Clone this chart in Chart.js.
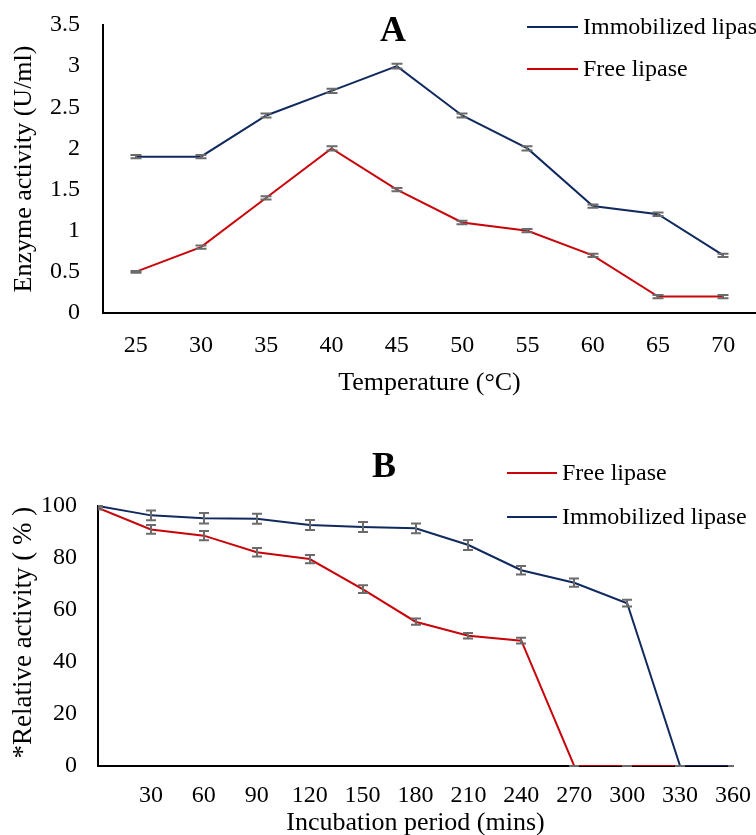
<!DOCTYPE html>
<html><head><meta charset="utf-8">
<script src="https://cdn.jsdelivr.net/npm/chart.js@4/dist/chart.umd.min.js"></script>
<style>
html,body{margin:0;padding:0;background:#fff;overflow:hidden;width:756px;height:835px;}
#wa{position:absolute;left:0;top:0;width:756px;height:420px;}
#wb{position:absolute;left:0;top:420px;width:756px;height:425px;}
</style></head><body>
<div id="wa"><canvas id="ca"></canvas></div>
<div id="wb"><canvas id="cb"></canvas></div>
<script>
// ---- Panel A data ----
const temperatures = ['25','30','35','40','45','50','55','60','65','70'];
const immobilizedA = [1.9, 1.9, 2.4, 2.7, 3.0, 2.4, 2.0, 1.3, 1.2, 0.7];
const freeA        = [0.5, 0.8, 1.4, 2.0, 1.5, 1.1, 1.0, 0.7, 0.2, 0.2];
const immobilizedAErr = [0.02, 0.02, 0.025, 0.025, 0.03, 0.025, 0.025, 0.02, 0.02, 0.02];
const freeAErr        = [0.01, 0.02, 0.02, 0.025, 0.02, 0.02, 0.02, 0.02, 0.02, 0.02];
const yTicksA = ['0','0.5','1','1.5','2','2.5','3','3.5'];

// ---- Panel B data ----
const incubation = [0, 30, 60, 90, 120, 150, 180, 210, 240, 270, 300, 330, 360];
const freeB        = [99.3, 91, 88.6, 82.2, 79.6, 68, 55.5, 50.1, 48.2, 0, 0, 0, 0];
const immobilizedB = [100, 96.4, 95.3, 95.1, 92.7, 91.9, 91.4, 85, 75.3, 70.5, 62.6, 0, 0];
const freeBErr        = [0.6, 1.7, 1.8, 1.6, 1.6, 1.5, 1.2, 1.1, 1.1, 0, 0, 0, 0];
const immobilizedBErr = [0, 1.9, 2.0, 1.9, 1.9, 1.9, 1.9, 1.9, 1.6, 1.6, 1.3, 0, 0];
const xTicksB = ['', '30','60','90','120','150','180','210','240','270','300','330','360'];
const yTicksB = ['0','20','40','60','80','100'];

const NAVY = '#10295f';
const RED = '#c8040a';
const GRAY = '#6b6b6b';
const FONT = '"Liberation Serif", "Times New Roman", serif';

const errorBars = {
  id: 'errbars',
  afterDatasetsDraw(chart, args, o) {
    const ctx = chart.ctx, ys = chart.scales.y, a = chart.chartArea;
    ctx.save();
    ctx.beginPath();
    ctx.rect(a.left, 0, a.right - a.left + 1, chart.height);
    ctx.clip();
    ctx.strokeStyle = o.color; ctx.lineWidth = o.width;
    chart.data.datasets.forEach((ds, di) => {
      const errs = o.errors[di];
      const meta = chart.getDatasetMeta(di);
      meta.data.forEach((pt, i) => {
        const raw = ds.data[i];
        const v = (typeof raw === 'object') ? raw.y : raw;
        const e = errs[i];
        const x = Math.round(pt.x);
        const yt = ys.getPixelForValue(v + e), yb = ys.getPixelForValue(v - e);
        const h = o.cap / 2;
        ctx.beginPath();
        ctx.moveTo(x, yt); ctx.lineTo(x, yb);
        ctx.moveTo(x - h, yt); ctx.lineTo(x + h, yt);
        ctx.moveTo(x - h, yb); ctx.lineTo(x + h, yb);
        ctx.stroke();
      });
    });
    ctx.restore();
  }
};

const annot = {
  id: 'annot',
  afterDraw(chart, args, o) {
    const ctx = chart.ctx;
    ctx.save();
    ctx.fillStyle = '#000';
    ctx.font = 'bold 36px ' + FONT;
    ctx.textAlign = 'center'; ctx.textBaseline = 'middle';
    ctx.fillText(o.title, o.tx, o.ty);
    ctx.font = '24px ' + FONT;
    ctx.textAlign = 'left';
    o.items.forEach((di, k) => {
      const ds = chart.data.datasets[di];
      const y = o.ly + k * o.gap;
      ctx.strokeStyle = ds.borderColor; ctx.lineWidth = 2;
      ctx.beginPath(); ctx.moveTo(o.lx0, y); ctx.lineTo(o.lx1, y); ctx.stroke();
      ctx.fillStyle = '#000';
      ctx.fillText(ds.label, o.lx1 + 5, y + 1);
    });
    ctx.restore();
  }
};

function axisCommon() {
  return {
    grid: { display: false, drawTicks: false },
    border: { display: true, color: '#000', width: 2 },
  };
}
function fixX(h) { return function (s) { s.height = h; s.paddingLeft = 0; s.paddingRight = 0; s.paddingTop = 0; s.paddingBottom = 0; }; }
function fixY(w) { return function (s) { s.width = w; s.paddingLeft = 0; s.paddingRight = 0; s.paddingTop = 0; s.paddingBottom = 0; }; }

new Chart(document.getElementById('ca'), {
  type: 'line',
  data: {
    labels: temperatures,
    datasets: [
      { label: 'Immobilized lipase', data: immobilizedA, borderColor: NAVY, backgroundColor: NAVY, borderWidth: 2, pointRadius: 0, tension: 0 },
      { label: 'Free lipase', data: freeA, borderColor: RED, backgroundColor: RED, borderWidth: 2, pointRadius: 0, tension: 0 }
    ]
  },
  options: {
    responsive: true, maintainAspectRatio: false, animation: false,
    layout: { padding: { top: 25, left: 0, right: 0, bottom: 21 } },
    plugins: {
      legend: { display: false }, tooltip: { enabled: false },
      errbars: { errors: [immobilizedAErr, freeAErr], color: GRAY, width: 2, cap: 11 },
      annot: { title: 'A', tx: 393, ty: 32, items: [0, 1], lx0: 527, lx1: 578, ly: 27, gap: 42 }
    },
    scales: {
      x: Object.assign(axisCommon(), {
        type: 'category', offset: true,
        ticks: { autoSkip: false, maxRotation: 0, padding: 18, color: '#000', font: { family: FONT, size: 24 } },
        title: { display: true, text: 'Temperature (°C)', color: '#000', font: { family: FONT, size: 26 }, padding: { top: 0, bottom: 0 } },
        afterFit: fixX(86)
      }),
      y: Object.assign(axisCommon(), {
        min: 0, max: 3.5,
        ticks: { stepSize: 0.5, padding: 23, color: '#000', font: { family: FONT, size: 24 },
                 callback: (v, i) => yTicksA[i] },
        title: { display: true, text: 'Enzyme activity (U/ml)', color: '#000', font: { family: FONT, size: 26 }, padding: { top: 9, bottom: 0 } },
        afterFit: fixY(103)
      })
    }
  },
  plugins: [errorBars, annot]
});

new Chart(document.getElementById('cb'), {
  type: 'line',
  data: {
    datasets: [
      { label: 'Free lipase', data: incubation.map((t, i) => ({ x: t, y: freeB[i] })), borderColor: RED, backgroundColor: RED, borderWidth: 2, pointRadius: 0, tension: 0, order: 1 },
      { label: 'Immobilized lipase', data: incubation.map((t, i) => ({ x: t, y: immobilizedB[i] })), borderColor: NAVY, backgroundColor: NAVY, borderWidth: 2, pointRadius: 0, tension: 0, order: 0 }
    ]
  },
  options: {
    responsive: true, maintainAspectRatio: false, animation: false,
    layout: { padding: { top: 86, left: 0, right: 23, bottom: 6 } },
    plugins: {
      legend: { display: false }, tooltip: { enabled: false },
      errbars: { errors: [freeBErr, immobilizedBErr], color: GRAY, width: 2, cap: 10 },
      annot: { title: 'B', tx: 384, ty: 48, items: [0, 1], lx0: 507, lx1: 557, ly: 53, gap: 44 }
    },
    scales: {
      x: Object.assign(axisCommon(), {
        type: 'linear', min: 0, max: 360,
        ticks: { stepSize: 30, autoSkip: false, maxRotation: 0, padding: 15, color: '#000', font: { family: FONT, size: 24 },
                 callback: (v, i) => xTicksB[i] },
        title: { display: true, text: 'Incubation period (mins)', color: '#000', font: { family: FONT, size: 26 }, padding: { top: 0, bottom: 0 } },
        afterFit: fixX(73)
      }),
      y: Object.assign(axisCommon(), {
        min: 0, max: 100,
        ticks: { stepSize: 20, padding: 21, color: '#000', font: { family: FONT, size: 24 },
                 callback: (v, i) => yTicksB[i] },
        title: { display: true, text: ' *Relative activity ( % )', color: '#000', font: { family: FONT, size: 27 }, padding: { top: 8, bottom: 0 } },
        afterFit: fixY(98)
      })
    }
  },
  plugins: [errorBars, annot]
});
</script>
</body></html>
